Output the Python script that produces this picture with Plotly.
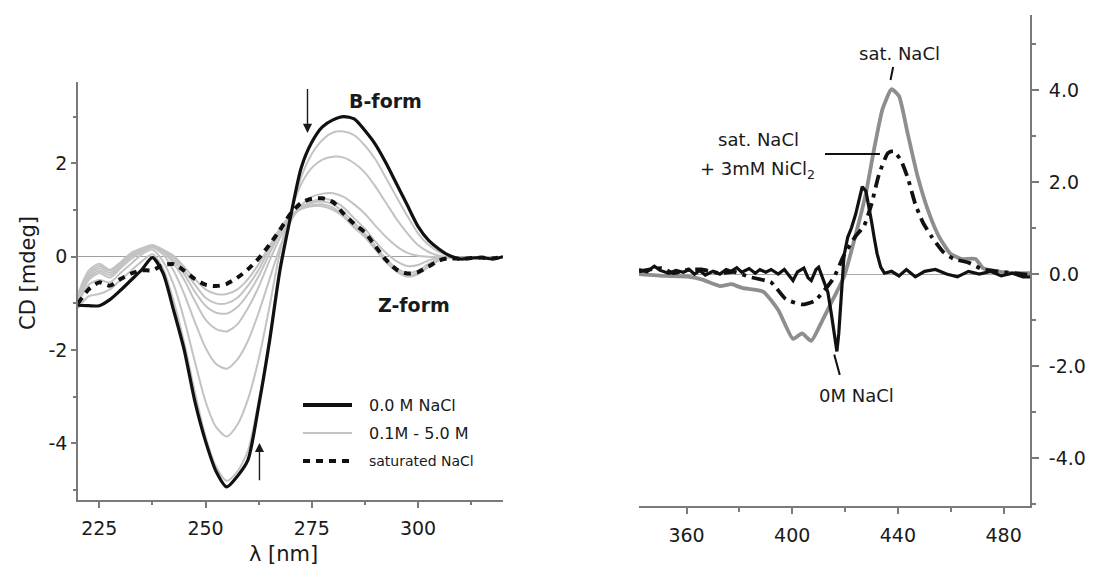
import plotly.graph_objects as go

W, H = 1093, 568

# ---------------- Left panel data (CD spectra, 220-320 nm) ----------------
wl = [220, 222.5, 225, 227.5, 230, 232.5, 235, 237.5, 240, 242.5, 245, 247.5, 250, 252.5,
      255, 257.5, 260, 262.5, 265, 267.5, 270, 272.5, 275, 277.5, 280, 282.5, 285, 287.5,
      290, 292.5, 295, 297.5, 300, 302.5, 305, 307.5, 310, 312.5, 315, 317.5, 320]

cd_0M = [-1.04, -1.05, -1.05, -0.92, -0.72, -0.5, -0.28, -0.02, -0.35, -1.15,
         -2.0, -3.1, -3.95, -4.6, -4.93, -4.7, -4.35, -3.2, -1.85, -0.3,
         0.85, 1.9, 2.45, 2.78, 2.93, 3.0, 2.95, 2.7, 2.4, 2.0,
         1.55, 1.1, 0.65, 0.35, 0.16, 0.02, -0.05, -0.03, -0.02, -0.05, 0.0]

cd_sat = [-1.0, -0.7, -0.55, -0.62, -0.48, -0.36, -0.29, -0.29, -0.18, -0.16,
          -0.3, -0.48, -0.6, -0.63, -0.58, -0.45, -0.27, -0.04, 0.25, 0.57,
          0.92, 1.15, 1.24, 1.25, 1.17, 0.92, 0.7, 0.52, 0.22, -0.07,
          -0.28, -0.36, -0.33, -0.21, -0.08, -0.03, -0.05, -0.03, -0.02, -0.04, 0.0]

cd_g1 = [-1.1, -0.85, -0.8, -0.7, -0.5, -0.3, -0.1, 0.05, -0.25, -0.95,
         -1.85, -2.9, -3.85, -4.5, -4.8, -4.6, -4.15, -3.1, -1.75, -0.2,
         0.9, 1.7, 2.2, 2.5, 2.66, 2.68, 2.6, 2.38, 2.08, 1.68,
         1.27, 0.87, 0.5, 0.25, 0.1, 0.02, -0.02, -0.02, -0.01, -0.03, 0.0]
cd_g2 = [-1.0, -0.6, -0.5, -0.55, -0.35, -0.15, 0.05, 0.15, -0.1, -0.6,
         -1.35, -2.25, -3.1, -3.65, -3.85, -3.6, -3.05, -2.2, -1.1, 0.1,
         0.95, 1.55, 1.9, 2.08, 2.14, 2.12, 2.0, 1.8, 1.5, 1.15,
         0.8, 0.5, 0.25, 0.1, 0.02, -0.02, -0.03, -0.02, -0.01, -0.03, 0.0]
cd_g3 = [-0.95, -0.5, -0.35, -0.45, -0.25, -0.05, 0.1, 0.2, 0.05, -0.3,
         -0.8, -1.4, -1.95, -2.3, -2.4, -2.2, -1.8, -1.2, -0.5, 0.2,
         0.75, 1.1, 1.28, 1.35, 1.36, 1.28, 1.12, 0.92, 0.66, 0.42,
         0.22, 0.08, 0.02, 0.0, -0.01, -0.02, -0.03, -0.02, -0.01, -0.03, 0.0]
cd_g4 = [-0.9, -0.45, -0.3, -0.4, -0.2, 0.0, 0.12, 0.2, 0.1, -0.15,
         -0.5, -0.95, -1.35, -1.55, -1.6, -1.45, -1.1, -0.65, -0.1, 0.4,
         0.8, 1.05, 1.18, 1.24, 1.2, 1.05, 0.82, 0.6, 0.32, 0.08,
         -0.1, -0.2, -0.18, -0.08, -0.02, -0.01, -0.03, -0.02, -0.01, -0.03, 0.0]
cd_g5 = [-0.9, -0.4, -0.25, -0.35, -0.18, 0.02, 0.14, 0.22, 0.12, -0.08,
         -0.38, -0.75, -1.05, -1.2, -1.22, -1.08, -0.8, -0.42, 0.05, 0.5,
         0.85, 1.05, 1.15, 1.18, 1.12, 0.95, 0.72, 0.5, 0.22, -0.05,
         -0.25, -0.35, -0.3, -0.15, -0.05, -0.02, -0.03, -0.02, -0.01, -0.03, 0.0]
cd_g6 = [-0.85, -0.35, -0.2, -0.3, -0.15, 0.05, 0.15, 0.22, 0.13, -0.02,
         -0.3, -0.6, -0.88, -1.0, -1.0, -0.88, -0.62, -0.28, 0.15, 0.55,
         0.85, 1.03, 1.1, 1.12, 1.05, 0.88, 0.65, 0.45, 0.18, -0.1,
         -0.3, -0.4, -0.35, -0.2, -0.06, -0.02, -0.03, -0.02, -0.01, -0.03, 0.0]
cd_g7 = [-0.8, -0.3, -0.15, -0.28, -0.12, 0.08, 0.18, 0.25, 0.15, 0.02,
         -0.22, -0.48, -0.7, -0.8, -0.8, -0.7, -0.48, -0.16, 0.22, 0.6,
         0.88, 1.02, 1.08, 1.08, 1.0, 0.85, 0.62, 0.42, 0.15, -0.12,
         -0.32, -0.43, -0.38, -0.22, -0.08, -0.02, -0.03, -0.02, -0.01, -0.03, 0.0]
gray_series = [cd_g1, cd_g2, cd_g3, cd_g4, cd_g5, cd_g6, cd_g7]

left_xticks = [225, 250, 275, 300]
left_xminor = [237.5, 262.5, 287.5, 312.5]
left_yticks = [-4, -2, 0, 2]
left_yticklabels = ["-4", "-2", "0", "2"]
left_yminor = [-5, -3, -1, 1, 3]

# ---------------- Right panel data (induced CD, 342-490 nm) ----------------
rx_sat = [342, 352, 361, 366, 372.6, 377, 381, 389, 394.7, 400.3, 403.7, 407.2, 411.3, 415.5,
          419.6, 423.8, 427.9, 430.7, 434.2, 437.6, 440.4, 443.8, 447.3, 451.5, 455.6, 459.8,
          463.9, 469.4, 472.2, 477.7, 483.3, 490]
ry_sat = [0.0, -0.04, -0.06, -0.12, -0.26, -0.22, -0.3, -0.38, -0.78, -1.41, -1.29, -1.45, -1.02,
          -0.54, -0.06, 0.81, 1.76, 2.63, 3.59, 4.02, 3.87, 3.03, 2.16, 1.37, 0.81, 0.45,
          0.33, 0.33, 0.13, 0.06, 0.02, 0.02]

rx_ni = [342, 350.6, 355, 361, 365.7, 372.6, 378, 383.7, 392, 397.5, 403.7, 408.6, 415.5, 419.6,
         423.8, 427.2, 430, 432.8, 436.2, 438.3, 441.1, 443.8, 446.6, 449.4, 452.8, 457,
         461.1, 466.7, 472.2, 477.7, 484, 490]
ry_ni = [0.06, 0.13, 0.02, 0.1, 0.1, 0.02, 0.05, -0.06, -0.18, -0.54, -0.66, -0.58, -0.1, 0.41,
         0.81, 1.05, 1.52, 2.16, 2.63, 2.67, 2.48, 2.08, 1.52, 1.13, 0.81, 0.49,
         0.33, 0.25, 0.1, 0.06, 0.02, -0.02]

rx_0 = [342, 345, 347.8, 350, 353.3, 356, 358.8, 361, 363, 365, 367.1, 370, 372.6, 375, 376.8,
        379, 380.9, 383.7, 386, 387.8, 390, 392, 394.7, 397, 400.3, 402, 404.4, 406, 407.2, 409,
        410, 411, 412, 413.5, 414.8, 416, 416.9, 417.6, 418.3, 419.6, 421, 422.4, 424, 425.2,
        426.5, 427.9, 429, 430, 431, 432.1, 433.5, 434.9, 437.6, 440.4, 443.2, 446.6, 450.1,
        454.2, 458.4, 462.5, 466.7, 470.8, 475, 479.1, 483.3, 487.4, 490]
ry_0 = [0.1, 0.05, 0.17, 0.08, 0.02, 0.08, 0.04, 0.1, 0.0, 0.08, -0.02, 0.06, 0.0, 0.1, 0.06,
        0.14, 0.04, 0.12, 0.02, 0.1, 0.04, 0.1, 0.0, 0.1, -0.14, 0.05, 0.13, -0.08, -0.14, 0.1,
        0.15, 0.0, -0.14, -0.4, -0.86, -1.3, -1.68, -1.3, -0.6, 0.4, 0.8, 1.0, 1.3, 1.6,
        1.9, 1.8, 1.5, 1.15, 0.8, 0.45, 0.15, 0.02, 0.06, -0.04, 0.1, -0.06, 0.06,
        0.1, 0.0, -0.06, 0.06, 0.0, 0.06, -0.04, 0.02, -0.06, -0.06]

right_xticks = [360, 400, 440, 480]
right_xminor = [380, 420, 460]
right_yticks = [-4, -2, 0, 2, 4]
right_yticklabels = ["-4.0", "-2.0", "0.0", "2.0", "4.0"]
right_yminor = [-5, -3, -1, 1, 3, 5]

# ---------------- Figure ----------------
LFONT = "Comic Sans MS, DejaVu Sans, sans-serif"
RFONT = "Century Gothic, DejaVu Sans, sans-serif"
AXC = "#7a7a7a"
TXT = "#1a1a1a"

fig = go.Figure()

for g in gray_series:
    fig.add_trace(go.Scatter(x=wl, y=g, mode="lines", xaxis="x", yaxis="y",
                             line=dict(color="#c3c3c3", width=2, shape="spline", smoothing=0.7),
                             showlegend=False, hoverinfo="skip"))
fig.add_trace(go.Scatter(x=wl, y=cd_sat, mode="lines", xaxis="x", yaxis="y",
                         line=dict(color="#111111", width=4, dash="7px,6px", shape="spline", smoothing=0.7),
                         showlegend=False))
fig.add_trace(go.Scatter(x=wl, y=cd_0M, mode="lines", xaxis="x", yaxis="y",
                         line=dict(color="#111111", width=3.2, shape="spline", smoothing=0.7),
                         showlegend=False))

fig.add_trace(go.Scatter(x=rx_sat, y=ry_sat, mode="lines", xaxis="x2", yaxis="y2",
                         line=dict(color="#8e8e8e", width=3.8, shape="spline", smoothing=0.5),
                         showlegend=False))
fig.add_trace(go.Scatter(x=rx_ni, y=ry_ni, mode="lines", xaxis="x2", yaxis="y2",
                         line=dict(color="#111111", width=3.8, dash="13px,6px,4px,6px",
                                   shape="spline", smoothing=0.5),
                         showlegend=False))
fig.add_trace(go.Scatter(x=rx_0, y=ry_0, mode="lines", xaxis="x2", yaxis="y2",
                         line=dict(color="#111111", width=3.2),
                         showlegend=False))

def px(xp):
    return xp / W

def py(yp):
    return 1 - yp / H

fig.update_layout(
    width=W, height=H, margin=dict(l=0, r=0, t=0, b=0),
    paper_bgcolor="white", plot_bgcolor="white",
    xaxis=dict(domain=[px(78), px(503)], range=[220, 320], anchor="y",
               showgrid=False, zeroline=False, showline=True, linecolor=AXC, linewidth=1.5,
               ticks="outside", ticklen=6, tickcolor=AXC, tickwidth=1.5,
               tickvals=left_xticks, ticklabelstandoff=4,
               minor=dict(tickvals=left_xminor, ticks="outside", ticklen=3, tickcolor=AXC),
               tickfont=dict(family=LFONT, size=19, color=TXT)),
    yaxis=dict(domain=[py(500), py(82)], range=[-5.21, 3.74], anchor="x",
               showgrid=False, zeroline=True, zerolinecolor="#a0a0a0", zerolinewidth=1.2,
               showline=True, linecolor=AXC, linewidth=1.5,
               ticks="outside", ticklen=5, tickcolor=AXC, tickwidth=1.5,
               tickvals=left_yticks, ticktext=left_yticklabels,
               minor=dict(tickvals=left_yminor, ticks="outside", ticklen=3, tickcolor=AXC),
               tickfont=dict(family=LFONT, size=19, color=TXT)),
    xaxis2=dict(domain=[px(639), px(1030)], range=[342, 490], anchor="y2",
                showgrid=False, zeroline=False, showline=True, linecolor=AXC, linewidth=2,
                ticks="outside", ticklen=6, tickcolor=AXC, tickwidth=1.5,
                tickvals=right_xticks, ticklabelstandoff=5,
                minor=dict(tickvals=right_xminor, ticks="outside", ticklen=4, tickcolor=AXC),
                tickfont=dict(family=RFONT, size=19, color=TXT)),
    yaxis2=dict(domain=[py(506), py(14.6)], range=[-5.04, 5.64], anchor="x2", side="right",
                showgrid=False, zeroline=True, zerolinecolor="#a8a8a8", zerolinewidth=1.2,
                showline=True, linecolor=AXC, linewidth=2,
                ticks="outside", ticklen=7, tickcolor=AXC, tickwidth=1.5,
                tickvals=right_yticks, ticktext=right_yticklabels, ticklabelstandoff=6,
                minor=dict(tickvals=right_yminor, ticks="outside", ticklen=4, tickcolor=AXC),
                tickfont=dict(family=RFONT, size=19, color=TXT)),
)


def label(text, xp, yp, family, size, angle=0, xanchor="center"):
    return dict(text=text, x=px(xp), y=py(yp), xref="paper", yref="paper",
                xanchor=xanchor, yanchor="middle", showarrow=False, textangle=angle,
                font=dict(family=family, size=size, color=TXT))


ann = []
# axis titles (left panel)
ann.append(label("CD [mdeg]", 28, 273, LFONT, 21, angle=-90))
ann.append(label("λ [nm]", 283, 554, LFONT, 21))
# B-form / Z-form labels
ann.append(label("<b>B-form</b>", 385, 101, LFONT, 19))
ann.append(label("<b>Z-form</b>", 414, 305, LFONT, 19))
# arrows
ann.append(dict(text="", x=274, y=2.65, ax=274, ay=3.62, xref="x", yref="y",
                axref="x", ayref="y", showarrow=True, arrowhead=2, arrowsize=1.3,
                arrowwidth=1.4, arrowcolor=TXT))
ann.append(dict(text="", x=262.7, y=-3.99, ax=262.7, ay=-4.82, xref="x", yref="y",
                axref="x", ayref="y", showarrow=True, arrowhead=2, arrowsize=1.3,
                arrowwidth=1.4, arrowcolor=TXT))
# legend texts (left panel)
leg_labels = ["0.0 M NaCl", "0.1M - 5.0 M", "saturated NaCl"]
leg_y = [405, 433, 461]
leg_size = [16, 16, 14]
for lab, yy, sz in zip(leg_labels, leg_y, leg_size):
    ann.append(label(lab, 367, yy, LFONT, sz, xanchor="left"))
# right panel labels
ann.append(label("sat. NaCl", 899, 53, RFONT, 18))
ann.append(label("sat. NaCl", 758, 139, RFONT, 18))
ann.append(label("+ 3mM NiCl<sub>2</sub>", 757, 170, RFONT, 18))
ann.append(label("0M NaCl", 856, 395, RFONT, 18))
fig.update_layout(annotations=ann)

shapes = []
# legend sample lines
shapes.append(dict(type="line", xref="paper", yref="paper", x0=px(303), x1=px(352),
                   y0=py(405), y1=py(405), line=dict(color="#111111", width=4)))
shapes.append(dict(type="line", xref="paper", yref="paper", x0=px(303), x1=px(352),
                   y0=py(433), y1=py(433), line=dict(color="#c3c3c3", width=2.2)))
shapes.append(dict(type="line", xref="paper", yref="paper", x0=px(303), x1=px(352),
                   y0=py(461), y1=py(461), line=dict(color="#111111", width=4, dash="7px,6px")))
# leader lines right panel
shapes.append(dict(type="line", xref="x2", yref="y2", x0=438.2, x1=437.2, y0=4.5, y1=4.22,
                   line=dict(color="#111111", width=2)))
shapes.append(dict(type="line", xref="x2", yref="y2", x0=412.4, x1=433.2, y0=2.61, y1=2.61,
                   line=dict(color="#111111", width=2)))
shapes.append(dict(type="line", xref="x2", yref="y2", x0=415.9, x1=418.0, y0=-1.75, y1=-2.19,
                   line=dict(color="#111111", width=2)))
fig.update_layout(shapes=shapes)

fig.write_html("out.html", config={"displayModeBar": False},
               post_script="document.body.style.margin='0';document.body.style.overflow='hidden';")
